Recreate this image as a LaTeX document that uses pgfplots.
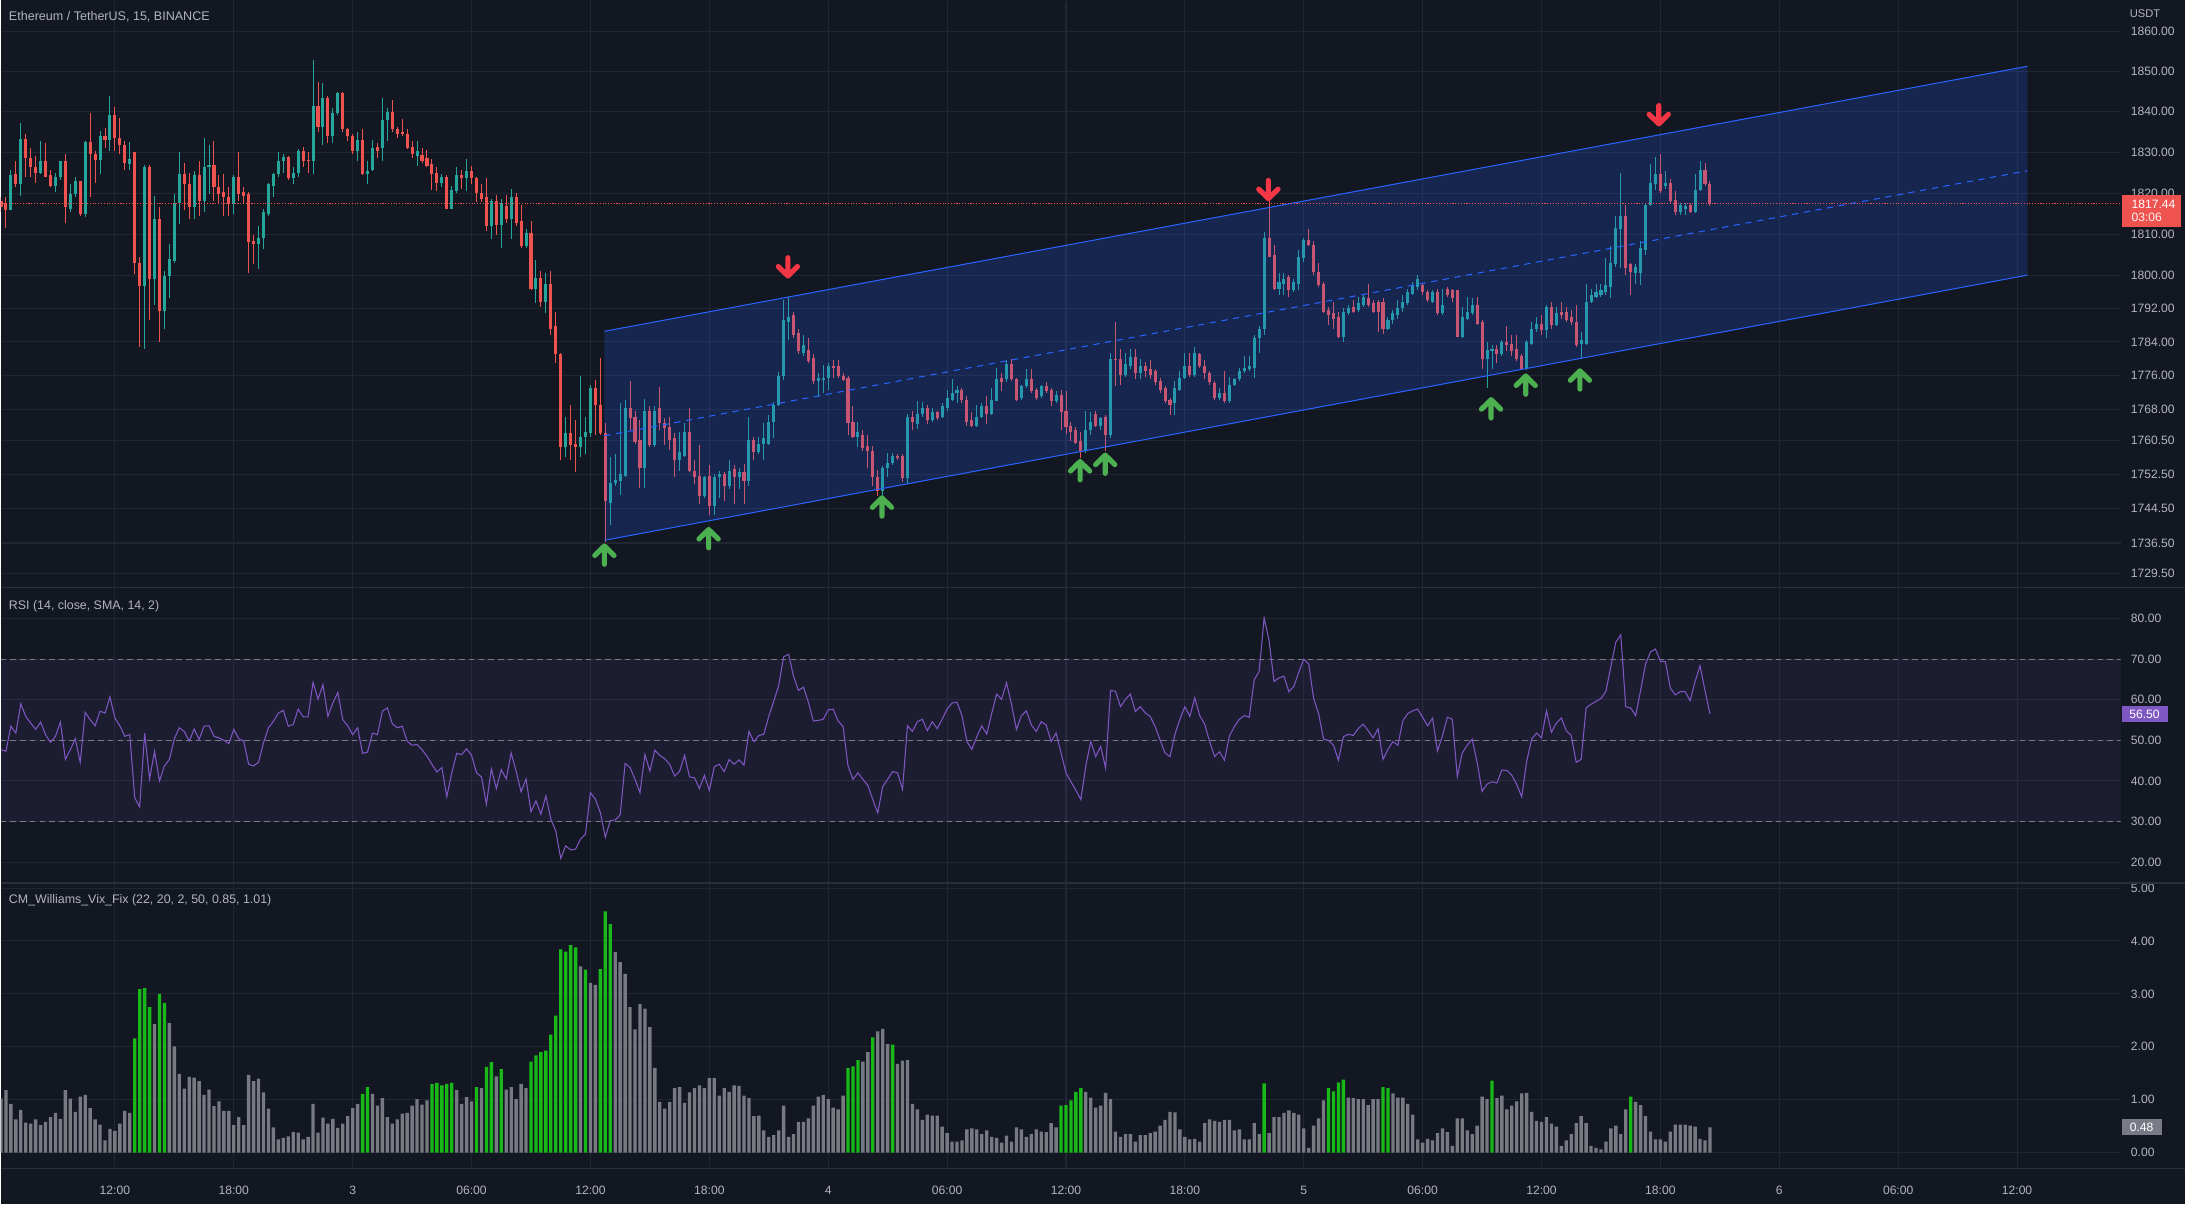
\documentclass[border=0pt]{standalone}
\usepackage{fontspec}
\setmainfont{Liberation Sans}
\usepackage{pgfplots}
\usepackage{pgfplotstable}
\pgfplotsset{compat=1.18}
\definecolor{bg}{HTML}{131722}
\definecolor{gridc}{HTML}{222632}
\definecolor{sepc}{HTML}{2A2E39}
\definecolor{txt}{HTML}{B2B5BE}
\definecolor{upc}{HTML}{26A69A}
\definecolor{dnc}{HTML}{EF5350}
\definecolor{chc}{HTML}{2962FF}
\definecolor{rsic}{HTML}{7E57C2}
\definecolor{vgray}{HTML}{787A82}
\definecolor{vgreen}{HTML}{17B817}
\definecolor{agreen}{HTML}{4CAF50}
\definecolor{ared}{HTML}{F23645}
\definecolor{lvl}{HTML}{787B86}

\pgfdeclareplotmark{tvup}{%
  \pgfsetlinewidth{3.7pt}\pgfsetroundcap\pgfsetroundjoin
  \pgfpathmoveto{\pgfqpoint{-6.9pt}{-0.3pt}}%
  \pgfpathlineto{\pgfqpoint{0pt}{6.5pt}}%
  \pgfpathlineto{\pgfqpoint{6.9pt}{-0.3pt}}%
  \pgfpathmoveto{\pgfqpoint{0pt}{6.3pt}}%
  \pgfpathlineto{\pgfqpoint{0pt}{-6.6pt}}%
  \pgfusepathqstroke}
\pgfdeclareplotmark{tvdown}{%
  \pgfsetlinewidth{3.7pt}\pgfsetroundcap\pgfsetroundjoin
  \pgfpathmoveto{\pgfqpoint{-6.9pt}{0.3pt}}%
  \pgfpathlineto{\pgfqpoint{0pt}{-6.5pt}}%
  \pgfpathlineto{\pgfqpoint{6.9pt}{0.3pt}}%
  \pgfpathmoveto{\pgfqpoint{0pt}{-6.3pt}}%
  \pgfpathlineto{\pgfqpoint{0pt}{6.6pt}}%
  \pgfusepathqstroke}

% green candles: i open high low close
\pgfplotstableread{
i o h l c
-21 1815.9 1826.1 1815.9 1824.4
-19 1822.4 1837.4 1819.6 1833.5
-15 1825.3 1833.0 1824.8 1828.1
-12 1822.0 1825.3 1820.4 1824.0
-11 1824.0 1828.1 1823.6 1827.9
-9 1816.5 1822.4 1815.7 1820.0
-8 1820.0 1824.0 1819.2 1823.0
-6 1815.1 1833.0 1814.3 1832.7
-3 1828.3 1835.4 1824.8 1834.2
-1 1833.4 1844.0 1830.5 1839.5
3 1827.4 1832.6 1826.1 1828.5
6 1797.6 1827.1 1782.6 1826.6
8 1799.2 1819.6 1793.1 1813.9
10 1791.5 1801.3 1787.4 1800.0
11 1800.0 1807.8 1794.8 1804.1
12 1803.7 1820.0 1803.3 1817.9
13 1817.9 1830.1 1812.6 1824.8
16 1816.7 1825.7 1813.9 1824.4
18 1818.3 1833.8 1815.5 1826.6
19 1826.5 1831.8 1820.0 1827.1
24 1817.5 1824.4 1815.1 1824.0
29 1807.8 1812.2 1801.7 1809.4
30 1809.4 1816.3 1806.6 1815.5
31 1815.1 1822.8 1814.7 1822.4
32 1822.0 1825.3 1819.2 1824.8
33 1824.8 1830.1 1824.0 1827.9
34 1827.9 1829.7 1825.3 1829.1
36 1823.9 1826.5 1822.4 1825.3
37 1825.3 1830.9 1824.0 1830.5
40 1827.9 1852.9 1824.8 1841.5
42 1836.6 1847.2 1831.8 1843.5
44 1834.2 1841.1 1832.2 1839.9
45 1839.9 1845.2 1839.5 1844.8
49 1830.5 1835.0 1828.1 1833.4
51 1824.8 1828.1 1822.4 1825.7
52 1826.1 1833.4 1825.7 1831.3
54 1831.3 1843.5 1828.1 1838.1
55 1838.1 1841.1 1833.0 1840.0
61 1829.3 1833.0 1826.9 1830.5
66 1822.9 1824.9 1821.7 1824.1
68 1816.5 1822.1 1816.5 1820.9
69 1820.5 1826.5 1820.1 1824.5
71 1823.8 1828.4 1820.5 1825.7
76 1812.1 1818.9 1808.9 1818.3
78 1812.5 1818.9 1806.9 1817.7
80 1813.7 1821.3 1808.9 1819.3
83 1807.3 1811.3 1806.9 1810.5
85 1797.0 1803.8 1793.4 1799.6
87 1793.8 1800.6 1791.0 1798.2
91 1759.2 1766.4 1756.8 1762.4
94 1759.2 1775.9 1756.8 1761.6
95 1761.6 1766.4 1757.6 1762.8
96 1762.4 1773.9 1761.6 1773.1
100 1746.1 1756.8 1740.9 1750.8
101 1750.6 1757.6 1750.0 1751.4
102 1751.2 1769.5 1748.0 1752.8
103 1752.4 1770.3 1752.0 1768.3
107 1754.4 1770.7 1749.6 1767.9
109 1759.6 1768.7 1759.2 1767.9
114 1756.0 1762.8 1753.6 1758.0
115 1757.2 1764.8 1756.8 1762.8
119 1747.6 1752.4 1747.2 1752.0
121 1745.3 1752.8 1743.3 1752.0
122 1752.0 1753.6 1747.2 1752.8
124 1750.0 1756.0 1749.2 1753.6
126 1752.0 1754.4 1749.2 1753.2
128 1751.2 1766.4 1750.0 1760.8
130 1758.0 1761.6 1757.6 1760.0
131 1760.0 1764.8 1756.0 1761.2
132 1760.0 1766.8 1759.6 1765.2
133 1765.2 1769.9 1761.2 1769.1
134 1769.1 1777.1 1768.7 1775.9
135 1775.9 1794.2 1775.1 1789.4
136 1789.0 1795.0 1784.7 1790.2
139 1781.5 1785.9 1780.7 1783.5
142 1774.7 1776.7 1771.1 1775.5
143 1775.1 1778.7 1771.9 1775.5
144 1775.5 1779.1 1772.7 1778.3
150 1761.6 1765.2 1759.2 1762.8
155 1748.9 1754.6 1747.7 1754.2
156 1754.2 1757.8 1752.1 1755.4
157 1755.4 1757.8 1755.0 1757.0
160 1751.7 1767.1 1750.5 1766.3
162 1764.7 1770.0 1763.5 1767.1
163 1767.1 1769.7 1766.3 1768.3
165 1765.5 1768.3 1765.1 1767.5
167 1766.3 1769.5 1765.9 1768.7
168 1768.3 1772.8 1767.9 1770.8
169 1770.4 1775.2 1770.0 1772.1
170 1772.0 1773.6 1769.6 1772.8
174 1764.3 1769.1 1763.9 1766.3
175 1766.3 1769.5 1765.9 1768.7
177 1767.1 1773.2 1766.7 1770.4
178 1770.0 1778.1 1770.0 1775.2
180 1775.2 1779.7 1774.4 1778.9
183 1770.8 1774.0 1770.4 1773.6
184 1773.6 1777.7 1773.2 1775.2
187 1771.2 1774.0 1770.8 1773.6
190 1770.0 1772.4 1769.6 1771.6
196 1758.2 1767.9 1757.8 1763.1
197 1763.1 1767.5 1761.9 1765.1
199 1764.3 1766.3 1763.1 1765.9
201 1761.9 1781.7 1761.4 1780.1
204 1776.4 1781.7 1776.0 1778.9
205 1778.5 1782.5 1777.7 1780.5
207 1776.8 1780.1 1775.2 1778.5
214 1769.6 1774.8 1766.7 1773.2
215 1772.8 1777.2 1772.4 1775.6
216 1775.6 1781.7 1775.2 1778.5
218 1776.4 1782.9 1776.0 1781.7
223 1770.8 1773.2 1770.4 1772.0
225 1770.0 1776.0 1769.6 1774.0
226 1774.0 1775.6 1773.6 1775.2
227 1775.2 1778.1 1774.8 1777.2
228 1777.2 1780.9 1776.8 1778.1
229 1777.7 1780.9 1777.2 1778.5
230 1778.1 1785.8 1775.6 1785.3
231 1785.3 1787.8 1781.7 1787.4
232 1787.4 1810.8 1785.8 1809.2
235 1797.0 1800.7 1795.4 1798.6
236 1798.2 1800.7 1795.4 1799.4
238 1796.6 1799.4 1796.2 1798.6
239 1798.2 1806.4 1796.6 1804.7
240 1804.3 1809.2 1803.5 1808.8
248 1785.4 1792.2 1784.2 1791.4
249 1791.0 1793.0 1790.6 1792.2
251 1791.8 1795.0 1791.4 1793.4
252 1793.0 1795.8 1792.6 1795.0
257 1787.4 1790.2 1787.0 1789.4
258 1789.4 1791.8 1788.6 1791.0
259 1790.6 1794.2 1789.8 1792.2
260 1792.2 1795.4 1791.4 1793.8
261 1793.4 1797.0 1793.0 1796.2
262 1795.8 1798.6 1795.4 1797.8
263 1797.4 1800.3 1796.6 1799.4
266 1793.8 1796.6 1793.4 1796.2
268 1791.0 1797.0 1790.6 1793.0
272 1785.4 1792.6 1785.0 1790.2
273 1789.8 1795.0 1789.4 1791.4
274 1791.0 1794.6 1790.6 1793.0
277 1780.2 1784.2 1773.0 1782.2
278 1781.8 1783.4 1777.8 1782.6
280 1781.4 1784.6 1781.0 1784.2
285 1777.8 1784.6 1777.4 1784.2
286 1783.8 1789.0 1783.4 1787.4
287 1787.4 1790.2 1786.6 1788.6
289 1787.0 1793.0 1785.0 1792.6
291 1788.2 1792.6 1787.8 1791.0
296 1783.8 1786.6 1780.2 1784.6
297 1783.8 1798.2 1783.4 1793.8
298 1793.8 1797.0 1793.4 1795.4
299 1795.0 1798.2 1794.6 1796.2
300 1795.4 1798.2 1795.0 1796.6
301 1796.2 1804.3 1795.4 1797.8
302 1797.4 1807.2 1794.6 1803.1
303 1802.7 1814.5 1802.3 1811.7
304 1811.3 1825.1 1801.9 1814.5
307 1800.7 1802.7 1798.2 1802.3
308 1800.7 1808.4 1797.8 1806.8
309 1806.4 1817.8 1805.1 1817.4
310 1817.4 1827.2 1817.0 1822.7
311 1822.3 1829.2 1821.0 1824.7
313 1821.9 1825.5 1821.4 1822.7
316 1815.7 1817.8 1814.9 1817.4
317 1816.2 1817.8 1814.9 1817.0
319 1815.7 1824.7 1815.3 1821.0
320 1821.0 1828.0 1820.6 1825.9
}\upcandles

% red candles: i open high low close
\pgfplotstableread{
i o h l c
-23 1818.3 1819.2 1815.5 1816.7
-22 1817.9 1819.2 1811.8 1815.9
-20 1824.8 1828.1 1821.6 1822.4
-18 1833.5 1834.6 1824.0 1828.9
-17 1828.9 1831.3 1824.0 1826.5
-16 1826.6 1829.3 1822.8 1825.3
-14 1828.1 1832.2 1824.0 1824.0
-13 1824.4 1826.1 1821.6 1822.0
-10 1828.1 1829.7 1812.8 1816.7
-7 1823.0 1823.2 1814.7 1815.1
-5 1832.7 1839.9 1819.2 1829.7
-4 1829.7 1830.5 1822.8 1828.3
-2 1834.2 1836.2 1831.3 1833.4
0 1839.5 1841.3 1830.5 1833.8
1 1833.8 1838.7 1829.7 1831.8
2 1831.8 1833.0 1826.1 1827.7
4 1830.1 1830.1 1800.5 1803.3
5 1803.3 1804.5 1783.0 1797.6
7 1826.6 1827.1 1789.5 1799.2
9 1813.9 1816.7 1784.2 1791.5
14 1824.8 1827.7 1815.9 1822.4
15 1822.4 1825.3 1813.9 1816.7
17 1824.4 1828.1 1814.7 1818.3
20 1827.1 1833.0 1818.3 1821.6
21 1821.6 1824.4 1817.9 1820.0
22 1820.4 1824.8 1814.7 1819.2
23 1819.2 1821.6 1814.7 1817.5
25 1824.0 1830.1 1818.3 1820.0
26 1820.4 1821.6 1817.9 1819.6
27 1820.0 1820.4 1800.9 1808.2
28 1808.6 1809.8 1802.9 1807.8
35 1829.1 1829.3 1823.6 1823.9
38 1830.7 1831.5 1826.5 1827.9
39 1828.3 1830.1 1825.3 1827.9
41 1841.5 1847.6 1835.0 1836.6
43 1843.5 1844.0 1832.2 1834.2
46 1844.8 1845.2 1835.0 1835.8
47 1835.8 1836.1 1833.0 1834.2
48 1834.2 1834.6 1829.7 1830.5
50 1833.4 1835.8 1824.4 1824.8
53 1831.5 1832.2 1828.9 1830.5
56 1840.0 1843.1 1835.0 1835.8
57 1835.8 1836.6 1833.8 1834.6
58 1835.2 1838.3 1834.2 1834.6
59 1834.8 1835.8 1830.9 1831.3
60 1831.5 1833.0 1828.9 1829.7
62 1829.6 1831.2 1827.6 1828.0
63 1828.8 1830.8 1826.5 1826.9
64 1827.2 1828.4 1820.9 1824.9
65 1825.3 1826.5 1820.5 1822.9
67 1824.1 1824.5 1816.5 1816.5
70 1824.5 1826.1 1821.3 1823.8
72 1825.7 1826.9 1822.5 1823.7
73 1823.7 1824.1 1818.1 1820.1
74 1820.1 1822.5 1818.1 1819.0
75 1819.3 1823.7 1810.9 1812.1
77 1818.3 1819.7 1810.1 1812.5
79 1816.9 1819.7 1812.9 1813.7
81 1819.3 1820.1 1812.1 1812.9
82 1813.3 1817.3 1806.9 1807.3
84 1810.5 1813.3 1796.6 1797.0
86 1799.6 1801.4 1792.6 1793.8
88 1798.2 1801.4 1785.9 1787.4
89 1787.8 1791.4 1779.1 1781.1
90 1781.1 1781.5 1756.0 1759.2
92 1762.4 1769.1 1756.0 1759.6
93 1760.0 1765.6 1753.2 1759.2
97 1773.1 1775.1 1762.0 1769.1
98 1769.1 1780.3 1762.0 1762.4
99 1762.4 1764.8 1736.9 1746.5
104 1768.3 1774.7 1763.2 1765.9
105 1766.3 1767.9 1760.0 1760.4
106 1760.8 1765.6 1749.6 1754.4
108 1767.9 1768.7 1759.2 1759.6
110 1768.3 1773.5 1763.2 1764.8
111 1764.8 1766.0 1759.6 1763.6
112 1764.0 1766.4 1758.4 1760.8
113 1761.2 1762.4 1752.0 1756.0
116 1762.8 1768.3 1753.2 1753.6
117 1753.6 1756.0 1750.4 1752.0
118 1752.4 1759.6 1745.7 1747.6
120 1752.4 1754.8 1743.3 1745.3
123 1752.8 1753.2 1746.4 1750.0
125 1754.0 1754.8 1745.7 1752.0
127 1753.2 1755.2 1745.7 1751.2
129 1760.8 1761.6 1756.0 1758.0
137 1790.6 1791.4 1785.1 1785.9
138 1786.3 1787.1 1781.1 1781.9
140 1782.3 1785.1 1779.1 1779.5
141 1780.3 1781.1 1774.3 1774.7
145 1778.3 1779.9 1775.5 1777.9
146 1778.3 1779.9 1775.5 1775.9
147 1775.9 1776.7 1774.7 1775.1
148 1775.5 1775.9 1762.0 1764.8
149 1765.2 1768.7 1761.2 1761.6
151 1761.9 1763.1 1758.2 1759.0
152 1759.4 1761.9 1754.2 1758.2
153 1758.2 1759.4 1750.1 1752.1
154 1752.1 1753.8 1747.7 1748.9
158 1757.0 1757.6 1756.2 1756.6
159 1757.0 1757.4 1750.9 1751.7
161 1766.3 1767.9 1763.1 1765.1
164 1768.3 1769.1 1764.7 1765.5
166 1767.5 1767.9 1765.5 1765.9
171 1772.8 1773.2 1769.6 1770.4
172 1770.4 1771.2 1764.3 1765.1
173 1765.5 1767.5 1763.9 1764.3
176 1768.7 1771.2 1764.7 1767.1
179 1775.4 1776.8 1772.4 1774.4
181 1778.9 1780.1 1774.8 1775.2
182 1775.2 1775.6 1770.0 1770.4
185 1775.2 1777.7 1772.0 1772.4
186 1772.8 1773.2 1770.4 1770.8
188 1773.6 1774.4 1772.0 1772.4
189 1772.8 1773.2 1768.7 1770.0
191 1771.6 1772.8 1763.1 1767.5
192 1767.9 1772.4 1762.3 1763.9
193 1764.3 1765.1 1760.6 1762.7
194 1763.1 1763.9 1759.8 1760.2
195 1760.6 1762.7 1756.6 1758.2
198 1767.1 1767.9 1763.9 1764.3
200 1766.3 1766.7 1758.2 1761.9
202 1780.1 1789.0 1773.6 1779.7
203 1780.1 1782.5 1774.0 1776.4
206 1780.5 1782.5 1775.2 1776.8
208 1778.5 1779.3 1776.0 1777.2
209 1777.7 1779.7 1775.2 1776.4
210 1777.2 1777.7 1774.0 1774.4
211 1774.8 1775.6 1772.0 1772.8
212 1773.2 1773.6 1769.6 1770.0
213 1770.4 1770.8 1766.7 1769.1
217 1778.5 1781.7 1776.0 1776.4
219 1781.3 1781.7 1778.1 1778.5
220 1778.5 1779.7 1775.2 1776.8
221 1776.8 1777.2 1774.0 1774.4
222 1774.4 1774.8 1770.4 1770.8
224 1772.0 1777.2 1769.6 1770.0
233 1809.4 1818.2 1804.7 1804.7
234 1805.1 1807.6 1796.6 1797.0
237 1799.8 1800.3 1795.0 1796.6
241 1808.8 1811.3 1807.2 1807.6
242 1807.6 1808.4 1800.3 1801.1
243 1801.1 1803.1 1797.4 1797.8
244 1798.2 1798.6 1791.0 1791.4
245 1791.8 1792.6 1788.2 1790.6
246 1791.0 1793.8 1787.4 1789.8
247 1790.2 1791.4 1785.0 1785.4
250 1792.6 1794.2 1791.0 1791.4
253 1794.6 1798.2 1792.6 1793.0
254 1793.4 1794.2 1791.0 1791.4
255 1793.8 1794.2 1786.6 1791.4
256 1793.8 1794.6 1786.2 1787.4
264 1797.8 1798.2 1795.4 1796.2
265 1796.2 1796.6 1793.8 1794.2
267 1796.2 1797.0 1790.6 1791.0
269 1797.0 1797.4 1795.0 1795.4
270 1796.6 1797.0 1793.8 1794.6
271 1796.6 1796.6 1785.4 1785.4
275 1793.0 1795.0 1788.2 1788.6
276 1789.0 1789.4 1777.8 1780.2
279 1782.6 1783.4 1779.0 1781.4
281 1784.2 1787.8 1781.8 1783.4
282 1783.8 1785.8 1781.0 1781.8
283 1782.6 1785.8 1779.4 1780.2
284 1781.0 1781.4 1777.4 1777.8
288 1788.6 1790.6 1785.8 1787.0
290 1792.6 1793.8 1787.4 1788.2
292 1791.4 1793.8 1789.8 1790.6
293 1791.4 1792.6 1789.0 1789.4
294 1790.2 1791.8 1788.2 1789.0
295 1789.0 1793.0 1783.0 1783.4
305 1814.5 1817.4 1800.3 1801.9
306 1802.7 1803.1 1795.4 1801.1
312 1824.7 1830.0 1820.2 1820.6
314 1822.7 1823.5 1817.8 1818.2
315 1818.6 1820.6 1814.9 1815.7
318 1817.4 1817.8 1815.3 1815.7
321 1825.9 1827.6 1821.9 1822.3
322 1822.3 1823.1 1817.0 1817.44
}\dncandles

\pgfplotstableread{
i r
-23 47.7
-22 47.3
-21 53.5
-20 51.8
-19 59.0
-18 55.9
-17 54.3
-16 52.7
-15 54.5
-14 51.4
-13 49.5
-12 51.0
-11 54.5
-10 45.3
-9 47.7
-8 50.4
-7 44.6
-6 56.9
-5 55.1
-4 53.6
-3 57.2
-2 56.7
-1 60.7
0 55.5
1 53.6
2 51.0
3 51.4
4 35.9
5 33.6
6 51.8
7 40.5
8 47.3
9 40.0
10 43.7
11 45.3
12 50.4
13 53.1
14 52.2
15 49.8
16 52.8
17 50.2
18 53.5
19 53.6
20 51.0
21 50.6
22 50.0
23 49.2
24 52.7
25 50.4
26 49.8
27 44.1
28 43.7
29 44.6
30 49.4
31 53.1
32 54.7
33 56.7
34 57.4
35 53.5
36 53.9
37 57.7
38 55.8
39 55.8
40 64.3
41 60.2
42 63.7
43 55.9
44 59.2
45 61.8
46 55.1
47 53.6
48 51.4
49 53.1
50 46.8
51 47.1
52 51.8
53 51.4
54 57.2
55 58.0
56 54.1
57 53.1
58 53.5
59 49.8
60 48.8
61 49.0
62 47.7
63 46.1
64 44.1
65 42.2
66 43.3
67 36.1
68 42.0
69 46.8
70 46.5
71 47.9
72 46.3
73 42.0
74 41.0
75 34.3
76 43.0
77 38.1
78 42.8
79 40.5
80 46.9
81 42.4
82 37.3
83 40.5
84 32.4
85 35.1
86 31.8
87 36.3
88 30.6
89 27.7
90 20.9
91 24.0
92 23.0
93 23.2
94 25.7
95 26.9
96 37.1
97 35.5
98 32.2
99 26.1
100 30.2
101 30.4
102 31.6
103 44.3
104 43.3
105 40.4
106 37.1
107 46.5
108 42.4
109 47.6
110 46.3
111 45.5
112 44.1
113 41.2
114 42.4
115 46.3
116 41.0
117 40.8
118 38.1
119 41.4
120 37.7
121 43.5
122 44.1
123 42.3
124 45.3
125 44.1
126 45.2
127 43.9
128 52.2
129 49.7
130 51.2
131 51.5
132 55.9
133 59.6
134 63.5
135 70.6
136 71.2
137 65.8
138 62.3
139 63.1
140 59.4
141 54.8
142 54.9
143 55.2
144 57.5
145 57.7
146 54.8
147 53.4
148 43.7
149 40.4
150 42.0
151 40.4
152 38.9
153 35.4
154 32.1
155 38.6
156 40.4
157 42.3
158 42.0
159 37.9
160 53.6
161 52.2
162 54.6
163 55.2
164 52.4
165 54.6
166 52.9
167 55.2
168 57.7
169 59.2
170 59.4
171 56.1
172 49.7
173 47.8
174 50.9
175 53.6
176 51.5
177 56.6
178 61.4
179 60.1
180 64.2
181 58.9
182 52.7
183 56.1
184 57.3
185 53.8
186 52.2
187 54.6
188 53.8
189 49.7
190 51.8
191 46.9
192 42.0
193 39.8
194 37.7
195 35.4
196 43.7
197 49.7
198 46.0
199 48.5
200 43.2
201 62.3
202 62.1
203 58.3
204 60.1
205 61.4
206 57.1
207 58.3
208 56.8
209 55.9
210 53.4
211 50.1
212 46.9
213 46.0
214 51.5
215 55.2
216 58.3
217 55.9
218 60.5
219 56.1
220 54.0
221 49.7
222 46.0
223 47.2
224 45.1
225 51.1
226 53.4
227 55.2
228 56.1
229 55.7
230 64.9
231 67.0
232 80.2
233 74.6
234 64.5
235 65.4
236 65.8
237 62.0
238 63.3
239 66.8
240 70.0
241 68.8
242 60.3
243 56.6
244 50.3
245 50.0
246 48.8
247 45.1
248 50.9
249 51.5
250 51.2
251 52.9
252 54.0
253 52.4
254 50.6
255 52.9
256 45.3
257 47.8
258 49.7
259 48.8
260 54.8
261 56.6
262 57.3
263 57.7
264 55.7
265 53.6
266 55.5
267 47.4
268 51.1
269 55.7
270 55.2
271 41.1
272 46.9
273 48.8
274 50.3
275 44.6
276 37.4
277 39.2
278 39.8
279 39.5
280 42.7
281 42.6
282 41.4
283 39.1
284 36.1
285 44.8
286 50.3
287 51.8
288 50.6
289 57.3
290 52.0
291 54.3
292 55.5
293 52.4
294 51.2
295 44.6
296 45.3
297 58.0
298 58.9
299 59.6
300 60.3
301 62.1
302 68.2
303 74.2
304 76.0
305 58.3
306 58.0
307 56.1
308 62.3
309 68.8
310 71.8
311 72.5
312 69.5
313 69.4
314 62.9
315 61.2
316 62.0
317 62.0
318 59.8
319 64.5
320 68.4
321 62.3
322 56.5
}\rsidata

% Vix Fix, grey bars
\pgfplotstableread{
i v
-23 1.02
-22 1.18
-21 0.92
-20 0.63
-19 0.81
-18 0.57
-17 0.55
-16 0.63
-15 0.52
-14 0.58
-13 0.67
-12 0.75
-11 0.64
-10 1.18
-9 1.02
-8 0.77
-7 1.06
-6 1.09
-5 0.84
-4 0.63
-3 0.53
-2 0.23
-1 0.45
0 0.41
1 0.55
2 0.79
3 0.75
8 2.43
11 2.45
12 2.01
13 1.49
14 1.21
15 1.43
16 1.42
17 1.35
18 1.09
19 1.19
20 0.88
21 0.97
22 0.79
23 0.79
24 0.52
25 0.67
26 0.52
27 1.47
28 1.35
29 1.40
30 1.14
31 0.83
32 0.48
33 0.25
34 0.28
35 0.31
36 0.39
37 0.38
38 0.25
39 0.30
40 0.92
41 0.38
42 0.66
43 0.55
44 0.64
45 0.47
46 0.55
47 0.69
48 0.84
49 0.92
52 1.11
53 0.89
54 1.03
55 0.67
56 0.55
57 0.63
58 0.74
59 0.75
60 0.89
61 1.01
62 0.91
63 0.99
69 1.18
70 0.92
71 1.05
72 0.97
74 1.22
77 1.44
79 1.19
80 1.24
81 1.01
82 1.30
83 1.22
94 3.52
96 3.21
97 3.17
101 3.79
102 3.60
103 3.38
104 2.75
105 2.33
106 2.81
107 2.72
108 2.37
109 1.60
110 0.96
111 0.83
112 0.96
113 1.22
114 1.24
115 0.94
116 1.14
117 1.22
118 1.27
119 1.22
120 1.41
121 1.41
122 1.08
123 1.22
124 1.15
125 1.27
126 1.26
127 1.08
128 1.03
129 0.69
130 0.70
131 0.42
132 0.30
133 0.33
134 0.42
135 0.89
136 0.30
137 0.35
138 0.58
139 0.58
140 0.65
141 0.89
142 1.06
143 1.09
144 1.01
145 0.85
146 0.82
147 1.08
151 1.72
152 1.90
154 2.29
155 2.34
156 2.05
158 1.68
159 1.74
160 1.75
161 0.92
162 0.82
163 0.62
164 0.72
165 0.70
166 0.70
167 0.49
168 0.37
169 0.21
170 0.21
171 0.23
172 0.44
173 0.46
174 0.44
175 0.35
176 0.42
177 0.30
178 0.28
179 0.19
180 0.32
181 0.21
182 0.48
183 0.44
184 0.30
185 0.35
186 0.44
187 0.40
188 0.39
189 0.56
190 0.48
196 1.15
197 1.04
198 0.85
199 0.89
200 1.13
201 1.01
202 0.40
203 0.30
204 0.35
205 0.35
206 0.21
207 0.33
208 0.33
209 0.37
210 0.40
211 0.51
212 0.62
213 0.77
214 0.76
215 0.44
216 0.30
217 0.25
218 0.26
219 0.21
220 0.56
221 0.63
222 0.60
223 0.58
224 0.62
225 0.62
226 0.42
227 0.44
228 0.25
229 0.25
230 0.56
231 0.35
233 0.37
234 0.67
235 0.67
236 0.75
237 0.80
238 0.75
239 0.72
240 0.46
241 0.09
242 0.51
243 0.65
244 0.99
249 1.04
250 1.03
251 1.01
252 1.01
253 0.90
254 1.01
255 1.01
258 1.12
259 1.04
260 1.04
261 0.92
262 0.72
263 0.25
264 0.19
265 0.26
266 0.23
267 0.37
268 0.46
269 0.39
270 0.13
271 0.65
272 0.65
273 0.42
274 0.35
275 0.51
276 1.06
277 1.01
279 1.03
280 1.08
281 0.82
282 0.89
283 0.97
284 1.12
285 1.13
286 0.77
287 0.60
288 0.58
289 0.67
290 0.55
291 0.49
292 0.13
293 0.23
294 0.35
295 0.56
296 0.69
297 0.56
298 0.13
299 0.09
300 0.06
301 0.21
302 0.46
303 0.51
304 0.35
305 0.82
307 0.96
308 0.90
309 0.69
310 0.40
311 0.25
312 0.25
313 0.21
314 0.40
315 0.53
316 0.53
317 0.53
318 0.51
319 0.49
320 0.26
321 0.23
322 0.48
}\vixgray

% Vix Fix, green bars
\pgfplotstableread{
i v
4 2.16
5 3.09
6 3.11
7 2.75
9 3.00
10 2.83
50 1.11
51 1.24
64 1.30
65 1.32
66 1.27
67 1.30
68 1.32
73 1.24
75 1.62
76 1.71
78 1.58
84 1.72
85 1.84
86 1.90
87 1.93
88 2.23
89 2.59
90 3.84
91 3.80
92 3.92
93 3.88
95 3.46
98 3.47
99 4.56
100 4.32
148 1.60
149 1.63
150 1.75
153 2.18
157 2.04
191 0.89
192 0.90
193 0.99
194 1.15
195 1.22
232 1.31
245 1.22
246 1.16
247 1.33
248 1.38
256 1.24
257 1.22
278 1.36
306 1.06
}\vixgreen

\pgfplotsset{
  tvaxis/.style={
    scale only axis, width=1521.5pt,
    xmin=-23.07, xmax=404.9,
    axis line style={draw=none},
    major tick length=0pt, minor tick length=0pt,
    xtick={0,24,...,384},
    xmajorgrids=true, ymajorgrids=true,
    major grid style={draw=gridc, line width=0.75pt},
    yticklabel pos=right, ytick pos=right,
    tick label style={font=\fontsize{8.7}{10}\selectfont, text=txt},
    yticklabel style={anchor=west, inner sep=0pt, xshift=7.2pt},
    /pgf/number format/assume math mode=true,
  },
  candlewick/.style={draw=none, mark=none, forget plot,
    error bars/.cd, y dir=plus, y explicit, error mark=none,
    error bar style={draw=#1, solid, line width=0.7pt}},
  candlebody/.style={draw=none, mark=none, forget plot,
    error bars/.cd, y dir=plus, y explicit, error mark=none,
    error bar style={draw=#1, solid, line width=2.2pt}},
}

\begin{document}
\begin{tikzpicture}
\fill[bg] (0pt,0pt) rectangle (1568pt,864pt);

% ---------------- Vix Fix pane ----------------
\begin{axis}[tvaxis, at={(0pt,26pt)}, anchor=south west, height=204.7pt,
  ymin=-0.292, ymax=5.097,
  ytick={0,1,2,3,4,5},
  yticklabels={0.00,1.00,2.00,3.00,4.00,5.00},
  xticklabels={12:00,18:00,3,06:00,12:00,18:00,4,06:00,12:00,18:00,5,06:00,12:00,18:00,6,06:00,12:00},
  xticklabel style={anchor=base, yshift=-18.6pt}]
  \addplot[ybar, bar width=2.4pt, bar shift=0pt, fill=vgray, draw=none] table[x=i, y=v] {\vixgray};
  \addplot[ybar, bar width=2.4pt, bar shift=0pt, fill=vgreen, draw=none] table[x=i, y=v] {\vixgreen};
  \coordinate (vixlast) at (axis cs:404.9,0.48);
\end{axis}

% ---------------- RSI pane ----------------
\begin{axis}[tvaxis, at={(0pt,230.7pt)}, anchor=south west, height=211.8pt,
  ymin=14.87, ymax=87.60,
  ytick={20,30,40,50,60,70,80},
  yticklabels={20.00,30.00,40.00,50.00,60.00,70.00,80.00},
  xticklabels={}]
  \addplot[draw=none, fill=rsic, fill opacity=0.1] coordinates {(-23.07,30) (404.9,30) (404.9,70) (-23.07,70)} -- cycle;
  \addplot[lvl, line width=0.7pt, dash pattern=on 4pt off 3pt] coordinates {(-23.07,70) (404.9,70)};
  \addplot[lvl, line width=0.7pt, dash pattern=on 4pt off 3pt] coordinates {(-23.07,50) (404.9,50)};
  \addplot[lvl, line width=0.7pt, dash pattern=on 4pt off 3pt] coordinates {(-23.07,30) (404.9,30)};
  \addplot[rsic, line width=0.75pt, mark=none] table[x=i, y=r] {\rsidata};
  \coordinate (rsilast) at (axis cs:404.9,56.5);
\end{axis}

% ---------------- price pane (logarithmic price scale: y = ln(price)) ----------------
\begin{axis}[tvaxis, at={(0pt,442.5pt)}, anchor=south west, height=421.5pt,
  ymin=7.4536165, ymax=7.5324384,
  ytick={7.4555876,7.4596268,7.4642232,7.4687986,7.4733531,7.4776042,7.4821189,7.4866133,7.4910876,7.4955419,7.5010821,7.5065917,7.5120712,7.5175208,7.5229409,7.5283318},
  yticklabels={1729.50,1736.50,1744.50,1752.50,1760.50,1768.00,1776.00,1784.00,1792.00,1800.00,1810.00,1820.00,1830.00,1840.00,1850.00,1860.00},
  xticklabels={}]
  \addplot[candlewick=upc] table[x=i, y expr=ln(\thisrow{l}), y error plus expr=ln(\thisrow{h})-ln(\thisrow{l})] {\upcandles};
  \addplot[candlewick=dnc] table[x=i, y expr=ln(\thisrow{l}), y error plus expr=ln(\thisrow{h})-ln(\thisrow{l})] {\dncandles};
  \addplot[candlebody=upc] table[x=i, y expr=ln(\thisrow{o}), y error plus expr=ln(\thisrow{c})-ln(\thisrow{o})] {\upcandles};
  \addplot[candlebody=dnc] table[x=i, y expr=ln(\thisrow{c}), y error plus expr=ln(\thisrow{o})-ln(\thisrow{c})] {\dncandles};
  % regression channel
  \addplot[draw=none, fill=chc, fill opacity=0.2] coordinates {(98.82,7.4599934) (386.1,7.4955801) (386.1,7.5236118) (98.82,7.4880434)} -- cycle;
  \addplot[chc, line width=0.75pt] coordinates {(98.82,7.4880434) (386.1,7.5236118)};
  \addplot[chc, line width=0.75pt] coordinates {(98.82,7.4599934) (386.1,7.4955801)};
  \addplot[chc, line width=0.75pt, dash pattern=on 4.5pt off 4pt] coordinates {(98.82,7.4740186) (386.1,7.5095959)};
  % last price line (1817.44)
  \addplot[dnc, line width=0.7pt, dash pattern=on 0.8pt off 1.2pt] coordinates {(-23.07,7.5052502) (404.9,7.5052502)};
  % arrows
  \addplot[only marks, mark=tvup, color=agreen] coordinates {(98.82,7.4580111) (119.86,7.4602177) (154.85,7.4644627) (194.85,7.4693435) (199.92,7.4702037) (277.81,7.4776464) (284.81,7.4808255) (295.75,7.4815174)};
  \addplot[only marks, mark=tvdown, color=ared] coordinates {(135.86,7.4966834) (232.86,7.5070621) (311.67,7.5171041)};
  \coordinate (pricelast) at (axis cs:404.9,7.5052502);
\end{axis}

% value labels on the scales
\node[anchor=north west, fill=dnc, minimum width=42.3pt, minimum height=22.5pt, inner sep=0pt] at ([xshift=0.5pt, yshift=5.7pt]pricelast) {};
\node[anchor=west, inner sep=0pt, text=white, font=\fontsize{8.7}{10}\selectfont] at ([xshift=7.7pt, yshift=-1.2pt]pricelast) {1817.44};
\node[anchor=west, inner sep=0pt, text=white!92!dnc, font=\fontsize{8.7}{10}\selectfont] at ([xshift=7.7pt, yshift=-10.4pt]pricelast) {03:06};
\node[anchor=west, fill=rsic, text=white, inner xsep=5.6pt, inner ysep=0pt, minimum height=11.4pt, font=\fontsize{8.7}{10}\selectfont] at ([xshift=0.5pt]rsilast) {56.50};
\node[anchor=west, fill=lvl, text=white, inner xsep=5.9pt, inner ysep=0pt, minimum height=11.8pt, font=\fontsize{8.7}{10}\selectfont] at ([xshift=0.5pt]vixlast) {0.48};

% separators
\draw[sepc, line width=0.9pt] (0pt,442.5pt) -- (1568pt,442.5pt);
\draw[sepc, line width=0.9pt] (0pt,230.7pt) -- (1568pt,230.7pt);
\draw[sepc, line width=0.7pt] (0pt,26pt) -- (1568pt,26pt);

% pane titles
\node[anchor=west, inner sep=0pt, text=txt, font=\fontsize{9}{10}\selectfont] at (5.8pt,852.5pt) {Ethereum / TetherUS, 15, BINANCE};
\node[anchor=west, inner sep=0pt, text=txt, font=\fontsize{8.9}{10}\selectfont] at (5.8pt,429.3pt) {RSI (14, close, SMA, 14, 2)};
\node[anchor=west, inner sep=0pt, text=txt, font=\fontsize{8.9}{10}\selectfont] at (5.8pt,217.9pt) {CM\_Williams\_Vix\_Fix (22, 20, 2, 50, 0.85, 1.01)};
\node[anchor=west, inner sep=0pt, text=txt, font=\fontsize{8}{9}\selectfont] at (1528pt,854.4pt) {USDT};
\end{tikzpicture}
\end{document}
